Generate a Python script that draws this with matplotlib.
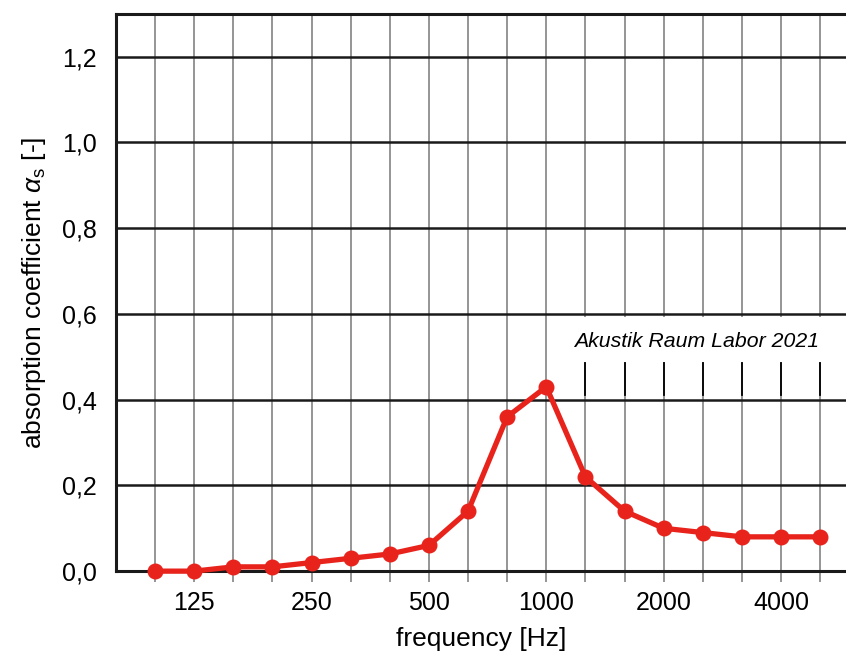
import matplotlib
matplotlib.use("Agg")
import matplotlib.pyplot as plt
from matplotlib.patches import Rectangle

# Terzbänder und gemessene Werte
bands = [100, 125, 160, 200, 250, 315, 400, 500, 630, 800,
         1000, 1250, 1600, 2000, 2500, 3150, 4000, 5000]
alpha_s = [0.00, 0.00, 0.01, 0.01, 0.02, 0.03, 0.04, 0.06, 0.14, 0.36,
           0.43, 0.22, 0.14, 0.10, 0.09, 0.08, 0.08, 0.08]
labelled = [125, 250, 500, 1000, 2000, 4000]
y_ticks = [0.0, 0.2, 0.4, 0.6, 0.8, 1.0, 1.2]

plt.rcParams['font.family'] = ['Liberation Sans', 'DejaVu Sans']
plt.rcParams['mathtext.fontset'] = 'custom'
plt.rcParams['mathtext.rm'] = 'Liberation Sans'
plt.rcParams['mathtext.it'] = 'Liberation Sans:italic'

fig = plt.figure(figsize=(8.46, 6.58), dpi=100, facecolor='white')
ax = fig.add_axes([0.137, 0.132, 0.863, 0.847])

idx = list(range(len(bands)))

# Gitter: vertikal grau, horizontal schwarz
for i in idx:
    ax.axvline(i, color='#8c8c8c', lw=1.3, zorder=1)
for y in y_ticks[1:]:
    ax.axhline(y, color='#1a1a1a', lw=1.8, zorder=2)
ax.axhline(1.3, color='#1a1a1a', lw=2.2, zorder=2, clip_on=False)

# Textfeld mit Markierungen
ax.add_patch(Rectangle((10.25, 0.487), 7.6, 0.105, facecolor='white',
                       edgecolor='none', zorder=3))
for i in idx[11:]:
    ax.plot([i, i], [0.412, 0.485], color='black', lw=1.3, zorder=3)
ax.text(13.85, 0.535, 'Akustik Raum Labor 2021', fontsize=15.3, style='italic',
        ha='center', va='center', zorder=4)

ax.plot(idx, alpha_s, color='#e8231c', lw=3.8, marker='o', markersize=10.5,
        markerfacecolor='#e8231c', markeredgecolor='#e8231c', zorder=5,
        clip_on=False)

ax.set_xlim(-1.0, 17.66)
ax.set_ylim(0, 1.3)

ax.set_xticks(idx)
ax.set_xticklabels([str(b) if b in labelled else '' for b in bands])
ax.set_yticks(y_ticks)
ax.set_yticklabels([f"{v:.1f}".replace('.', ',') for v in y_ticks])
ax.tick_params(axis='x', length=8, width=1.3, color='#8c8c8c', labelsize=18, pad=6)
ax.tick_params(axis='y', length=0, labelsize=18, pad=14)

for s in ['top', 'right']:
    ax.spines[s].set_visible(False)
ax.spines['left'].set_linewidth(2.2)
ax.spines['bottom'].set_linewidth(2.2)
ax.spines['left'].set_color('#1a1a1a')
ax.spines['bottom'].set_color('#1a1a1a')

ax.set_xlabel('frequency [Hz]', fontsize=19, labelpad=9)
ax.set_ylabel(r'absorption coefficient $\alpha_\mathregular{s}$ [-]', fontsize=19, labelpad=10)

plt.savefig('out.png', dpi=100)
plt.close()
